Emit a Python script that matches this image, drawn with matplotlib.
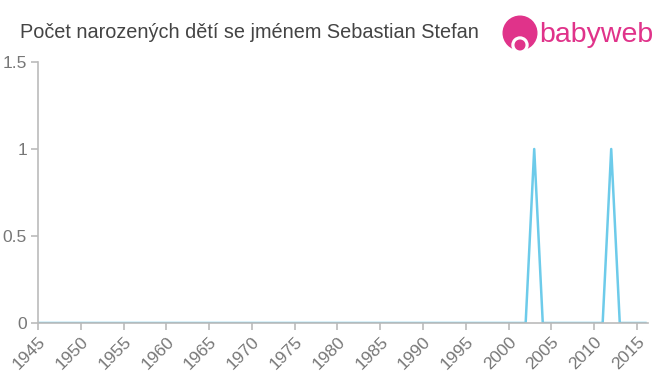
import numpy as np
import matplotlib.pyplot as plt
from matplotlib.patches import Circle

plt.rcParams['font.family'] = ['Liberation Sans', 'DejaVu Sans']

# data
years = list(range(1945, 2017))
counts = [0] * len(years)
counts[years.index(2003)] = 1
counts[years.index(2012)] = 1

title = "Počet narozených dětí se jménem Sebastian Stefan"
xticks = list(range(1945, 2016, 5))
yticks = [0, 0.5, 1, 1.5]
yticklabels = ["0", "0.5", "1", "1.5"]

fig = plt.figure(figsize=(6.6, 3.75), dpi=100)
ax = fig.add_axes([38 / 660, 1 - 323 / 375, (648 - 38) / 660, (323 - 62) / 375])

ax.plot(years, counts, color="#6dcbea", linewidth=1.8)

ax.set_xlim(1945, 2016.3)
ax.set_ylim(0, 1.5)
ax.set_xticks(xticks)
ax.set_xticklabels([str(y) for y in xticks], rotation=45, ha="right",
                   rotation_mode="anchor")
ax.set_yticks(yticks)
ax.set_yticklabels(yticklabels)

for s in ["top", "right"]:
    ax.spines[s].set_visible(False)
for s in ["left", "bottom"]:
    ax.spines[s].set_color("#bbbbbb")
    ax.spines[s].set_linewidth(1.2)
ax.tick_params(colors="#bbbbbb", length=5, width=1.2, labelsize=12.5,
               labelcolor="#777777", pad=3)

fig.text(20 / 660, 1 - 33 / 375, title, fontsize=14.3, color="#444444",
         va="center", ha="left")

# logo
pink = "#e0338a"
logo = fig.add_axes([500 / 660, 1 - 55 / 375, 40 / 660, 40 / 375])
logo.set_xlim(0, 1)
logo.set_ylim(0, 1)
logo.set_aspect("equal")
logo.axis("off")
logo.add_patch(Circle((0.5, 0.55), 0.42, color=pink))
logo.add_patch(Circle((0.5, 0.25), 0.2, color="white"))
logo.add_patch(Circle((0.5, 0.25), 0.12, color=pink))
fig.text(539 / 660, 1 - 35 / 375, "babyweb", fontsize=20.5, color=pink,
         va="center", ha="left")

fig.savefig("out.png", dpi=100)
